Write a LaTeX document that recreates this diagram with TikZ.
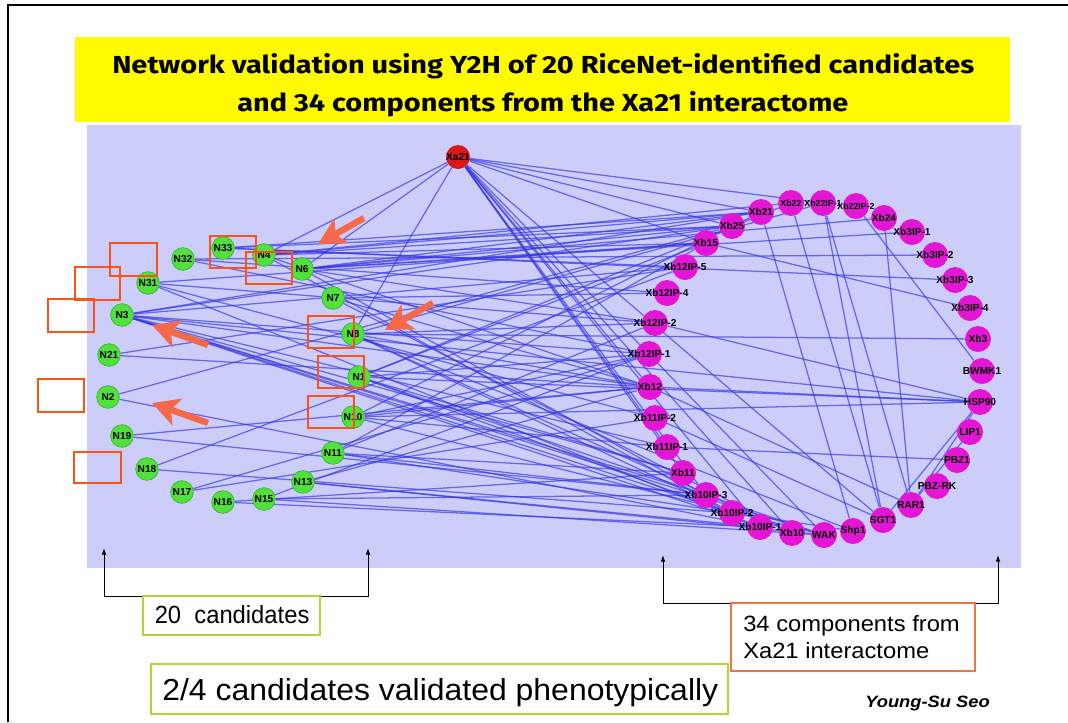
\documentclass[tikz,border=0pt]{standalone}
\usepackage{fontspec}
\setmainfont{Liberation Sans}
\newfontfamily\titlefont{Fira Sans}
\usetikzlibrary{arrows.meta}
\definecolor{panel}{RGB}{205,205,250}
\definecolor{titlebg}{RGB}{255,250,0}
\definecolor{gfill}{RGB}{80,225,60}
\definecolor{gdraw}{RGB}{60,180,50}
\definecolor{pfill}{RGB}{228,22,214}
\definecolor{rfill}{RGB}{215,25,25}
\definecolor{linkc}{RGB}{55,55,225}
\definecolor{markbox}{RGB}{252,82,22}
\definecolor{pointer}{RGB}{246,104,74}
\definecolor{limebox}{RGB}{175,215,50}
\definecolor{orbox}{RGB}{238,118,70}
\pgfdeclarelayer{bg}
\pgfdeclarelayer{links}
\pgfsetlayers{bg,links,main}
\begin{document}
\begin{tikzpicture}[x=0.75pt,y=-0.75pt,
  nlbl/.style={font=\bfseries\fontsize{7.6}{8}\selectfont, text=black, inner sep=0pt},
  small/.style={font=\bfseries\fontsize{6.6}{7}\selectfont},
  gn/.style={circle, fill=gfill, draw=gdraw, line width=0.5pt, minimum size=17pt, inner sep=0pt, label={[nlbl]center:#1}},
  pn/.style={circle, fill=pfill, minimum size=19.5pt, inner sep=0pt, label={[nlbl]center:#1}},
  pns/.style={circle, fill=pfill, minimum size=19.5pt, inner sep=0pt, label={[nlbl,small]center:#1}},
  rn/.style={circle, fill=rfill, minimum size=18pt, inner sep=0pt, label={[nlbl]center:#1}},
  link/.style={draw=linkc, line width=0.95pt, opacity=0.68},
  hibox/.style={draw=markbox, line width=1.6pt},
  pointarrow/.style={draw=pointer, line width=4.8pt, -{Stealth[length=20pt,width=21pt,inset=5pt]}},
  brk/.style={draw=black, line width=0.7pt, {Latex[length=5pt,width=3.5pt]}-{Latex[length=5pt,width=3.5pt]}},
  txt/.style={inner sep=0pt, anchor=base west}]

\useasboundingbox (0,0) rectangle (1068,722);

\begin{pgfonlayer}{bg}
  \fill[white] (0,0) rectangle (1068,722);
  \fill[titlebg] (75,37) rectangle (1010,122);
  \fill[panel] (87,125) rectangle (1021,568);
\end{pgfonlayer}

% slide frame
\draw[black, line width=0.8pt] (8,722) -- (8,5) -- (1068,5);

% title
\node[txt] (title1) at (112,73) {\resizebox{646.5pt}{15pt}{\titlefont\bfseries Network validation using Y2H of 20 RiceNet-identified candidates}};
\node[txt] (title2) at (237,111) {\resizebox{458.3pt}{15pt}{\titlefont\bfseries and 34 components from the Xa21 interactome}};

% receptor
\node[rn=Xa21] (xa21) at (458,157) {};

% candidates
\node[gn=N32] (n32) at (183,259) {};
\node[gn=N33] (n33) at (223,248) {};
\node[gn=N4]  (n4)  at (264,255) {};
\node[gn=N6]  (n6)  at (302,269) {};
\node[gn=N31] (n31) at (148,283) {};
\node[gn=N7]  (n7)  at (333,298) {};
\node[gn=N3]  (n3)  at (122,315) {};
\node[gn=N8]  (n8)  at (353,334) {};
\node[gn=N21] (n21) at (109,355) {};
\node[gn=N1]  (n1)  at (359,377) {};
\node[gn=N2]  (n2)  at (108,397) {};
\node[gn=N10] (n10) at (353,417) {};
\node[gn=N19] (n19) at (122,436) {};
\node[gn=N11] (n11) at (333,453) {};
\node[gn=N18] (n18) at (147,469) {};
\node[gn=N13] (n13) at (303,482) {};
\node[gn=N17] (n17) at (182,492) {};
\node[gn=N16] (n16) at (223,502) {};
\node[gn=N15] (n15) at (264,499) {};

% interactome components
\node[pn=Xb21]     (xb21)    at (761,212) {};
\node[pn=Xb25]     (xb25)    at (732,226) {};
\node[pn=Xb15]     (xb15)    at (706,243) {};
\node[pn=Xb12IP-5] (xb12ip5) at (685,267) {};
\node[pn=Xb12IP-4] (xb12ip4) at (667,293) {};
\node[pn=Xb12IP-2] (xb12ip2) at (655,323) {};
\node[pn=Xb12IP-1] (xb12ip1) at (649,354) {};
\node[pn=Xb12]     (xb12)    at (650,387) {};
\node[pn=Xb11IP-2] (xb11ip2) at (655,418) {};
\node[pn=Xb11IP-1] (xb11ip1) at (667,447) {};
\node[pn=Xb11]     (xb11)    at (683,473) {};
\node[pn=Xb10IP-3] (xb10ip3) at (706,495) {};
\node[pn=Xb10IP-2] (xb10ip2) at (732,513) {};
\node[pn=Xb10IP-1] (xb10ip1) at (760,527) {};
\node[pn=Xb10]     (xb10)    at (792,533) {};
\node[pn=WAK]      (wak)     at (824,535) {};
\node[pn=Shp1]     (shp1)    at (853,531) {};
\node[pn=SGT1]     (sgt1)    at (883,520) {};
\node[pn=RAR1]     (rar1)    at (911,505) {};
\node[pn=PBZ-RK]   (pbzrk)   at (937,486) {};
\node[pn=PBZ1]     (pbz1)    at (957,460) {};
\node[pn=LIP1]     (lip1)    at (970,432) {};
\node[pn=HSP90]    (hsp90)   at (980,402) {};
\node[pn=BWMK1]    (bwmk1)   at (982,371) {};
\node[pn=Xb3]      (xb3)     at (978,339) {};
\node[pn=Xb3IP-4]  (xb3ip4)  at (970,308) {};
\node[pn=Xb3IP-3]  (xb3ip3)  at (955,280) {};
\node[pn=Xb3IP-2]  (xb3ip2)  at (935,255) {};
\node[pn=Xb3IP-1]  (xb3ip1)  at (912,232) {};
\node[pn=Xb24]     (xb24)    at (884,218) {};
\node[pns=Xb22IP-2] (xb22ip2) at (856,206) {};
\node[pns=Xb22IP-1] (xb22ip1) at (823,203) {};
\node[pns=Xb22]     (xb22)    at (791,203) {};

% interactions
\begin{pgfonlayer}{links}
\foreach \a/\b in {
  xa21/n4, xa21/n6, xa21/n8, xa21/xb22ip1, xa21/xb21, xa21/xb25, xa21/xb15,
  xa21/xb12, xa21/xb11ip1, xa21/xb11, xa21/xb10ip1, xa21/xb10, xa21/wak, xa21/sgt1, xa21/xb10ip3,
  n32/xb12ip4, n32/xb12ip1, n32/xb3ip2,
  n33/xb21, n33/xb25, n33/xb12ip5, n33/xb3ip3,
  n4/xb21, n4/xb22, n4/xb15, n4/xb12, n4/xb10ip2, n4/xb25,
  n6/xb25, n6/xb15, n6/xb24, n6/xb3ip1, n6/xb12ip2, n6/xb10ip3, n6/xb21,
  n31/xb15, n31/xb12ip2, n31/xb11ip2, n31/xb10ip1,
  n7/xb12ip4, n7/xb12, n7/xb10,
  n3/xb25, n3/xb21, n3/xb12ip5, n3/xb12ip1, n3/xb12, n3/xb11ip1, n3/xb11,
  n3/xb10ip3, n3/xb10ip2, n3/xb10ip1, n3/wak, n3/hsp90,
  n8/xb3, n8/xb12ip2, n8/xb12, n8/xb22ip1, n8/xb10, n8/shp1, n8/xb10ip2,
  n21/xb12ip5, n21/xb12,
  n1/xb15, n1/xb12ip1, n1/hsp90, n1/xb10ip2, n1/xb22, n1/wak, n1/xb11,
  n2/xb10ip1, n2/xb25,
  n10/xb12, n10/xb12ip1, n10/xb11ip1, n10/xb21, n10/hsp90, n10/wak,
  n19/xb12, n19/xb10ip3,
  n11/xb12ip2, n11/xb10ip3, n11/xb11, n11/shp1, n11/xb15,
  n18/xb12ip5, n18/xb10ip2,
  n13/wak, n13/xb12, n13/xb10ip1,
  n17/xb12ip1, n17/xb11ip2,
  n16/xb10ip1, n16/xb11,
  n15/wak, n15/xb10ip3, n15/xb12ip1,
  xb12/hsp90, xb11ip1/pbz1, xb22/sgt1, xb22ip1/sgt1, xb21/shp1, xb22ip1/rar1,
  xb22ip2/bwmk1, xb24/rar1, hsp90/rar1, hsp90/sgt1, lip1/rar1, xb12/rar1,
  xb11ip2/sgt1, xb15/xb3ip4, xb12ip2/hsp90}
  \draw[link] (\a) -- (\b);
\end{pgfonlayer}

% highlight boxes
\draw[hibox] (110,243) rectangle (157,276);
\draw[hibox] (75,267) rectangle (120,300);
\draw[hibox] (48,299) rectangle (94,332);
\draw[hibox] (38,379) rectangle (84,412);
\draw[hibox] (74,452) rectangle (121,483);
\draw[hibox] (210,236) rectangle (256,268);
\draw[hibox] (246,252) rectangle (292,284);
\draw[hibox] (308,316) rectangle (354,348);
\draw[hibox] (318,356) rectangle (364,388);
\draw[hibox] (308,396) rectangle (354,428);

% pointers
\coordinate (p1s) at (364,218); \coordinate (p1e) at (318,244);
\coordinate (p2s) at (433,303); \coordinate (p2e) at (385,330);
\coordinate (p3s) at (208,345); \coordinate (p3e) at (152,325);
\coordinate (p4s) at (208,423); \coordinate (p4e) at (152,403);
\draw[pointarrow] (p1s) -- (p1e);
\draw[pointarrow] (p2s) -- (p2e);
\draw[pointarrow] (p3s) -- (p3e);
\draw[pointarrow] (p4s) -- (p4e);

% group brackets
\coordinate (lt) at (104,548); \coordinate (lb) at (104,596);
\coordinate (rb) at (368,596); \coordinate (rt) at (368,548);
\draw[brk] (lt) -- (lb) -- (rb) -- (rt);
\coordinate (lt2) at (663,555); \coordinate (lb2) at (663,603);
\coordinate (rb2) at (998,603); \coordinate (rt2) at (998,555);
\draw[brk] (lt2) -- (lb2) -- (rb2) -- (rt2);

% captions
\draw[draw=limebox, line width=1.2pt] (143,596) rectangle (320,635);
\node[txt] (cand) at (154.5,623) {\resizebox{116pt}{13.5pt}{20\ \ candidates}};
\draw[draw=orbox, line width=1.2pt] (731,603) rectangle (975,671);
\node[txt] (comp1) at (743,631) {\resizebox{162.4pt}{12pt}{34 components from}};
\node[txt] (comp2) at (743,658) {\resizebox{139.5pt}{12pt}{Xa21 interactome}};
\draw[draw=limebox, line width=1.2pt] (151,664) rectangle (728,714);
\node[txt] (valid) at (162,700) {\resizebox{417pt}{16.5pt}{2/4 candidates validated phenotypically}};
\node[txt] (author) at (865,707) {\resizebox{93.4pt}{8.6pt}{\bfseries\itshape Young-Su Seo}};
\end{tikzpicture}
\end{document}
